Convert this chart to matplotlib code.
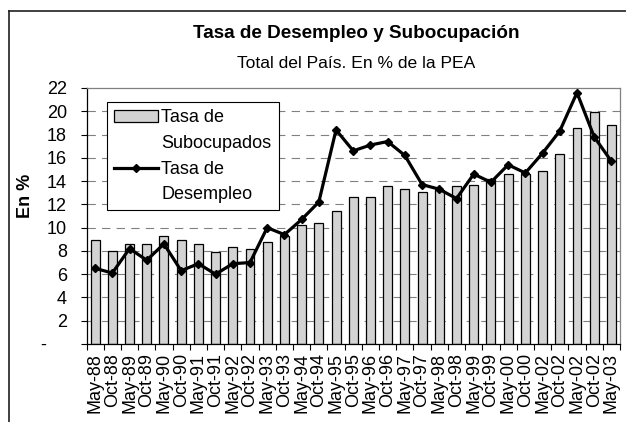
import matplotlib
matplotlib.use("Agg")
import matplotlib.pyplot as plt
from matplotlib.lines import Line2D
from matplotlib.patches import Patch
import numpy as np

labels = ["May-88", "Oct-88", "May-89", "Oct-89", "May-90", "Oct-90", "May-91", "Oct-91",
          "May-92", "Oct-92", "May-93", "Oct-93", "May-94", "Oct-94", "May-95", "Oct-95",
          "May-96", "Oct-96", "May-97", "Oct-97", "May-98", "Oct-98", "May-99", "Oct-99",
          "May-00", "Oct-00", "May-02", "Oct-02", "May-02", "Oct-02", "May-03"]
subocupados = [8.9, 8.0, 8.6, 8.6, 9.3, 8.9, 8.6, 7.9, 8.3, 8.2, 8.8, 9.3, 10.2, 10.4, 11.4, 12.6,
               12.6, 13.6, 13.3, 13.1, 13.2, 13.6, 13.7, 14.2, 14.6, 14.6, 14.9, 16.3, 18.6, 19.9, 18.8]
desempleo = [6.5, 6.1, 8.2, 7.2, 8.6, 6.3, 6.9, 6.0, 6.9, 7.0, 10.0, 9.4, 10.7, 12.2, 18.4, 16.6,
             17.1, 17.4, 16.2, 13.7, 13.3, 12.5, 14.6, 13.9, 15.4, 14.7, 16.4, 18.3, 21.6, 17.8, 15.7]
yticks = list(range(0, 23, 2))
ytick_labels = ["-    "] + [str(v) for v in yticks[1:]]
title = "Tasa de Desempleo y Subocupación"
subtitle = "Total del País. En % de la PEA"
ylabel = "En %"
legend_labels = ["Tasa de", "Subocupados", "Tasa de", "Desempleo"]

plt.rcParams['font.family'] = ['Liberation Sans', 'DejaVu Sans']
plt.rcParams['lines.scale_dashes'] = False

W, H = 626, 422
fig = plt.figure(figsize=(W / 100, H / 100), dpi=100)
ax = fig.add_axes([86.5 / W, 1 - 344 / H, (620 - 86.5) / W, (344 - 88) / H])

x = np.arange(len(labels))
bar_color = '#d3d3d3'
ax.bar(x, subocupados, width=0.52, color=bar_color, edgecolor='black', linewidth=0.9, zorder=2)
ax.plot(x, desempleo, color='black', lw=2.3, marker='D', ms=4.5, zorder=3)

ax.set_xlim(-0.5, len(labels) - 0.5)
ax.set_ylim(0, 22)
ax.set_yticks(yticks)
ax.set_yticklabels(ytick_labels, fontsize=13)
for yv in yticks[1:-1]:
    ax.axhline(yv, color='#808080', lw=0.8, dashes=(6, 4.5), zorder=1)

ax.set_xticks(x)
ax.set_xticklabels(labels, rotation=90, fontsize=13)
ax.set_xticks(np.arange(-0.5, len(labels), 1), minor=True)
ax.tick_params(axis='x', which='major', length=0, pad=6.5)
ax.tick_params(axis='x', which='minor', length=4.5, width=0.8, direction='out')
ax.tick_params(axis='y', which='major', length=4, width=0.8, direction='out', pad=10)

for s in ['left', 'bottom']:
    ax.spines[s].set_color('black')
    ax.spines[s].set_linewidth(0.9)
for s in ['top', 'right']:
    ax.spines[s].set_color('#808080')
    ax.spines[s].set_linewidth(0.9)

handles = [Patch(facecolor=bar_color, edgecolor='black', lw=0.9),
           Patch(facecolor='none', edgecolor='none'),
           Line2D([], [], color='black', lw=2.3, marker='D', ms=4.5),
           Patch(facecolor='none', edgecolor='none')]
leg = ax.legend(handles, legend_labels, loc='upper left',
                bbox_to_anchor=((107 - 86.5) / 533.5, (344 - 102) / 256),
                borderaxespad=0, fontsize=13, frameon=True, fancybox=False,
                edgecolor='black', framealpha=1, handlelength=2.4, handleheight=0.6,
                handletextpad=0.2, labelspacing=0.48, borderpad=0.4)
leg.get_frame().set_linewidth(0.8)

fig.text(25 / W, 1 - 196 / H, ylabel, rotation=90, fontweight='bold', fontsize=13,
         ha='center', va='center')
fig.text(356 / W, 1 - 37.7 / H, title, ha='center', va='baseline', fontweight='bold', fontsize=13.6)
fig.text(356 / W, 1 - 67.7 / H, subtitle, ha='center', va='baseline', fontsize=12.6)

fig.add_artist(Line2D([8.5 / W, 8.5 / W], [0, 1 - 11 / H], transform=fig.transFigure,
                      color='#202020', lw=1.2))
fig.add_artist(Line2D([8.5 / W, 1], [1 - 11 / H, 1 - 11 / H], transform=fig.transFigure,
                      color='#202020', lw=1.2))

fig.savefig("out.png", dpi=100)
